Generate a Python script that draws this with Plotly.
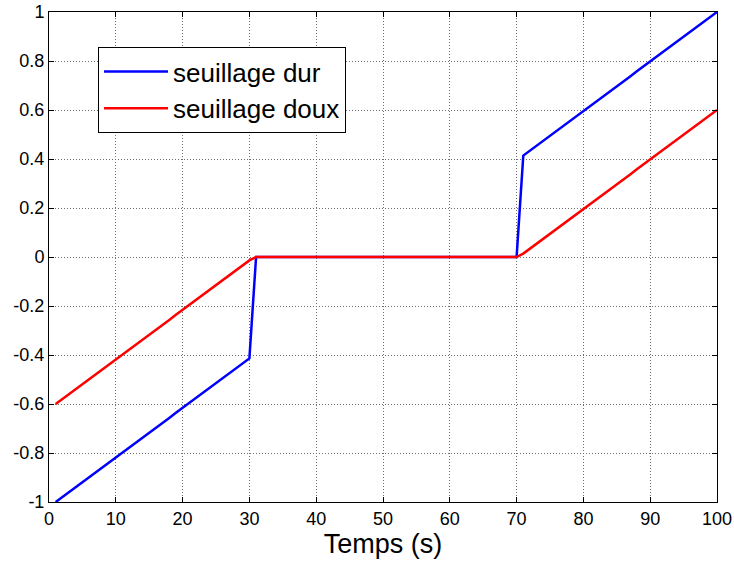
import plotly.graph_objects as go

# sample index (time, s)
temps = list(range(1, 101))

# hard thresholding
seuillage_dur = [
    -1.000, -0.980, -0.960, -0.939, -0.919, -0.899, -0.879, -0.859, -0.838, -0.818,
    -0.798, -0.778, -0.758, -0.737, -0.717, -0.697, -0.677, -0.657, -0.636, -0.616,
    -0.596, -0.576, -0.556, -0.535, -0.515, -0.495, -0.475, -0.455, -0.434, -0.414,
    0, 0, 0, 0, 0, 0, 0, 0, 0, 0,
    0, 0, 0, 0, 0, 0, 0, 0, 0, 0,
    0, 0, 0, 0, 0, 0, 0, 0, 0, 0,
    0, 0, 0, 0, 0, 0, 0, 0, 0, 0,
    0.414, 0.434, 0.455, 0.475, 0.495, 0.515, 0.535, 0.556, 0.576, 0.596,
    0.616, 0.636, 0.657, 0.677, 0.697, 0.717, 0.737, 0.758, 0.778, 0.798,
    0.818, 0.838, 0.859, 0.879, 0.899, 0.919, 0.939, 0.960, 0.980, 1.000,
]

# soft thresholding
seuillage_doux = [
    -0.600, -0.580, -0.560, -0.539, -0.519, -0.499, -0.479, -0.459, -0.438, -0.418,
    -0.398, -0.378, -0.358, -0.337, -0.317, -0.297, -0.277, -0.257, -0.236, -0.216,
    -0.196, -0.176, -0.156, -0.135, -0.115, -0.095, -0.075, -0.055, -0.034, -0.014,
    0, 0, 0, 0, 0, 0, 0, 0, 0, 0,
    0, 0, 0, 0, 0, 0, 0, 0, 0, 0,
    0, 0, 0, 0, 0, 0, 0, 0, 0, 0,
    0, 0, 0, 0, 0, 0, 0, 0, 0, 0,
    0.014, 0.034, 0.055, 0.075, 0.095, 0.115, 0.135, 0.156, 0.176, 0.196,
    0.216, 0.236, 0.257, 0.277, 0.297, 0.317, 0.337, 0.358, 0.378, 0.398,
    0.418, 0.438, 0.459, 0.479, 0.499, 0.519, 0.539, 0.560, 0.580, 0.600,
]

x_ticks = [0, 10, 20, 30, 40, 50, 60, 70, 80, 90, 100]
x_ticklabels = ["0", "10", "20", "30", "40", "50", "60", "70", "80", "90", "100"]
y_ticks = [-1, -0.8, -0.6, -0.4, -0.2, 0, 0.2, 0.4, 0.6, 0.8, 1]
y_ticklabels = ["-1", "-0.8", "-0.6", "-0.4", "-0.2", "0", "0.2", "0.4", "0.6", "0.8", "1"]

FONT = "Liberation Sans, Arial, sans-serif"

fig = go.Figure()
fig.add_trace(go.Scatter(x=temps, y=seuillage_dur, mode="lines", name="seuillage dur",
                         line=dict(color="#0000ff", width=2.5)))
fig.add_trace(go.Scatter(x=temps, y=seuillage_doux, mode="lines", name="seuillage doux",
                         line=dict(color="#ff0000", width=2.5)))

axis_common = dict(
    showline=True, linecolor="black", linewidth=1, mirror="allticks",
    ticks="inside", ticklen=5, tickcolor="black", tickwidth=1,
    showgrid=True, gridcolor="#6e6e6e", griddash="1px,2px", gridwidth=1,
    zeroline=False, automargin=False,
    tickfont=dict(family=FONT, size=18, color="black"),
)

fig.update_layout(
    width=734, height=563,
    margin=dict(l=49, r=17, t=12, b=61),
    paper_bgcolor="white", plot_bgcolor="white",
    font=dict(family=FONT, color="black"),
    xaxis=dict(range=[0, 100], tickvals=x_ticks, ticktext=x_ticklabels,
               title=dict(text="Temps (s)", font=dict(family=FONT, size=27), standoff=4),
               **axis_common),
    yaxis=dict(range=[-1, 1], tickvals=y_ticks, ticktext=y_ticklabels, **axis_common),
    legend=dict(x=0.0734, y=0.9286, xanchor="left", yanchor="top",
                bgcolor="white", bordercolor="black", borderwidth=1,
                font=dict(family=FONT, size=26, color="black"),
                itemwidth=64, tracegroupgap=0),
    showlegend=True,
)

fig.write_html("out.html")
